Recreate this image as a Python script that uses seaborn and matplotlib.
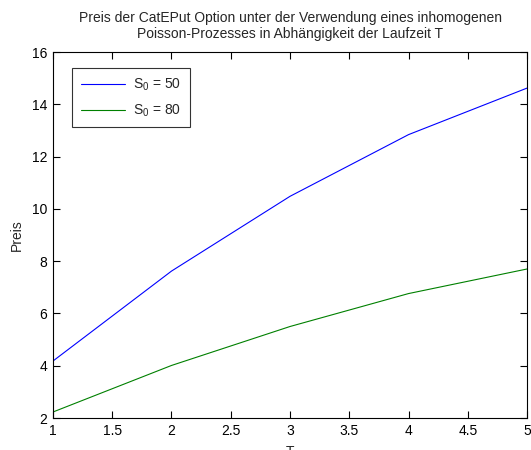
import matplotlib
matplotlib.use("Agg")
import matplotlib.pyplot as plt
import seaborn as sns
import pandas as pd

# Laufzeit T and option prices for the two initial stock prices
laufzeit = [1, 2, 3, 4, 5]
preis_s50 = [4.18, 7.62, 10.48, 12.84, 14.62]
preis_s80 = [2.23, 4.01, 5.50, 6.76, 7.70]
serien = ["S$_0$ = 50", "S$_0$ = 80"]
farben = ["#0000ff", "#008000"]

df = pd.DataFrame({
    "T": laufzeit * 2,
    "Preis": preis_s50 + preis_s80,
    "Serie": [serien[0]] * len(laufzeit) + [serien[1]] * len(laufzeit),
})

sns.set_style("ticks")
plt.rcParams["font.family"] = ["Liberation Sans", "DejaVu Sans"]
plt.rcParams["mathtext.default"] = "regular"
plt.rcParams["font.size"] = 10

fig = plt.figure(figsize=(5.31, 4.5), dpi=100)
ax = fig.add_axes([0.0998, 0.0711, 0.8927, 0.8133])

sns.lineplot(data=df, x="T", y="Preis", hue="Serie", palette=farben,
             hue_order=serien, ax=ax, linewidth=0.8, legend=True)

ax.set_xlim(1, 5)
ax.set_ylim(2, 16)
ax.set_xticks([1, 1.5, 2, 2.5, 3, 3.5, 4, 4.5, 5])
ax.set_xticklabels(["1", "1.5", "2", "2.5", "3", "3.5", "4", "4.5", "5"])
ax.set_yticks([2, 4, 6, 8, 10, 12, 14, 16])
ax.tick_params(direction="in", length=5, width=0.8, top=True, right=True,
               labelsize=10, colors="black", pad=4)
for s in ax.spines.values():
    s.set_visible(True)
    s.set_linewidth(0.8)
    s.set_color("black")

ax.set_xlabel("T", fontsize=10, labelpad=5)
ax.set_ylabel("Preis", fontsize=10, labelpad=6)
ax.set_title("Preis der CatEPut Option unter der Verwendung eines inhomogenen\n"
             "Poisson-Prozesses in Abhängigkeit der Laufzeit T",
             fontsize=10, pad=10, linespacing=1.15)

leg = ax.legend(loc="upper left", bbox_to_anchor=(0.026, 0.975), frameon=True,
                fancybox=False, edgecolor="black", fontsize=10,
                handlelength=3.2, borderpad=0.6, labelspacing=0.7,
                handletextpad=0.6)
leg.get_frame().set_linewidth(0.8)
for line in leg.get_lines():
    line.set_linewidth(0.8)

fig.savefig("out.png", dpi=100, facecolor="white")
